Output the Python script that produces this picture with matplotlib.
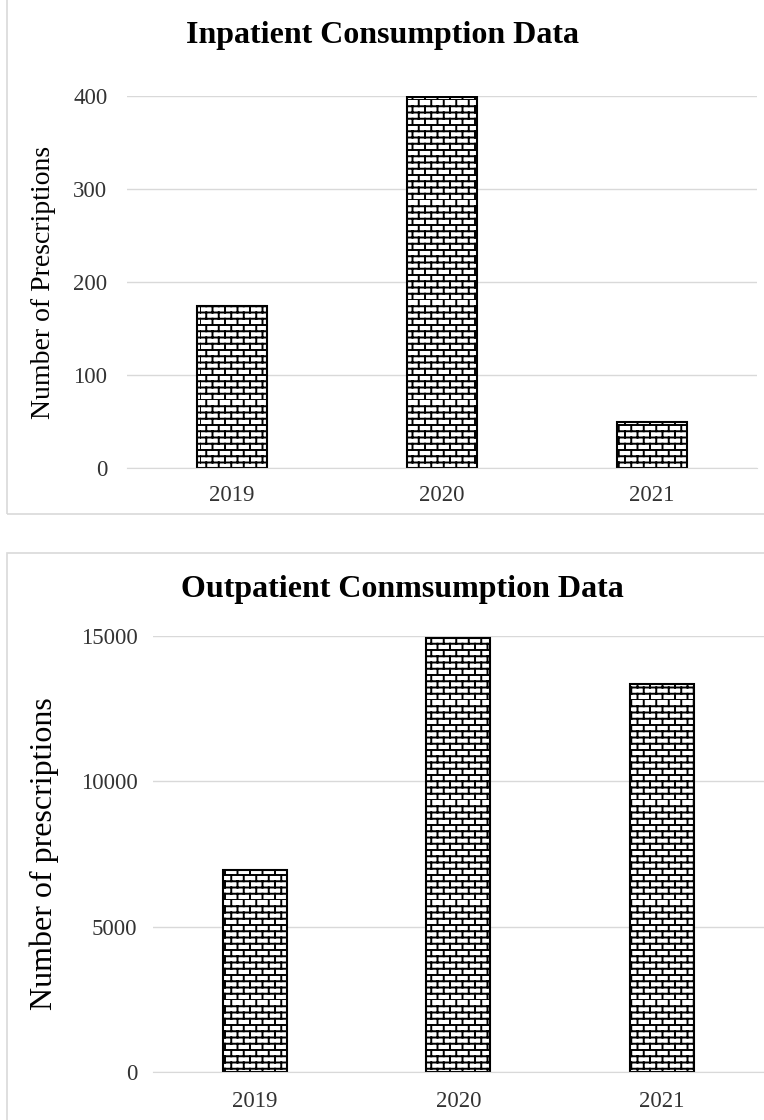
import warnings
import numpy as np
import matplotlib
matplotlib.use("Agg")
import matplotlib.pyplot as plt
import matplotlib.hatch as mhatch
from matplotlib.path import Path
from matplotlib.patches import Rectangle

warnings.filterwarnings("ignore")

years = ["2019", "2020", "2021"]
inpatient = [174, 399, 50]
outpatient = [6950, 14950, 13350]


# brick hatch, used with hatch="b"
class BrickHatch(mhatch.HatchPatternBase):
    def __init__(self, hatch, density):
        n = hatch.count("b")
        self.rows = 16 * n
        self.cols = 8 * n
        self.num_vertices = (self.rows + self.rows * self.cols) * 2

    def set_vertices_and_codes(self, vertices, codes):
        rows, cols = self.rows, self.cols
        i = 0
        for k in range(rows):
            y0 = k / rows
            y1 = (k + 1) / rows
            vertices[i] = (0.0, y0)
            vertices[i + 1] = (1.0, y0)
            i += 2
            off = 0.5 / cols if k % 2 else 0.0
            for j in range(cols):
                x = j / cols + off
                vertices[i] = (x, y0)
                vertices[i + 1] = (x, y1)
                i += 2
        codes[0::2] = Path.MOVETO
        codes[1::2] = Path.LINETO


mhatch._hatch_types.append(BrickHatch)

plt.rcParams["font.family"] = ["Liberation Serif", "DejaVu Serif"]
plt.rcParams["hatch.linewidth"] = 1.4
plt.rcParams["hatch.color"] = "black"

fig = plt.figure(figsize=(7.64, 11.2), dpi=100)

# panel frames
fig.add_artist(Rectangle((0.009, 0.541), 1.2, 0.6, transform=fig.transFigure,
                         fill=False, edgecolor="#d9d9d9", lw=1.2))
fig.add_artist(Rectangle((0.009, -0.1), 1.2, 0.606, transform=fig.transFigure,
                         fill=False, edgecolor="#d9d9d9", lw=1.2))


def style(ax, ylim, ticks, xpad, ypad):
    ax.set_ylim(0, ylim)
    ax.set_yticks(ticks)
    ax.grid(axis="y", color="#d9d9d9", lw=1)
    ax.set_axisbelow(True)
    for s in ["top", "right", "left"]:
        ax.spines[s].set_visible(False)
    ax.spines["bottom"].set_color("#d9d9d9")
    ax.tick_params(length=0, labelsize=16.5, colors="#333333")
    ax.tick_params(axis="x", pad=xpad)
    ax.tick_params(axis="y", pad=ypad)


ax1 = fig.add_axes([0.166, 0.582, 0.825, 0.332])
x = np.arange(len(years))
ax1.bar(x, inpatient, width=0.33, color="white", edgecolor="black",
        lw=1.5, hatch="b")
ax1.set_xticks(x, years)
ax1.set_xlim(-0.5, 2.5)
style(ax1, 400, [0, 100, 200, 300, 400], 12, 14)
ax1.set_ylabel("Number of Prescriptions", fontsize=20, labelpad=12)
fig.text(0.501, 0.968, "Inpatient Consumption Data", ha="center",
         va="center", fontsize=23, fontweight="bold")

ax2 = fig.add_axes([0.200, 0.043, 0.800, 0.389])
ax2.bar(x, outpatient, width=0.315, color="white", edgecolor="black",
        lw=1.5, hatch="b")
ax2.set_xticks(x, years)
ax2.set_xlim(-0.5, 2.5)
style(ax2, 15000, [0, 5000, 10000, 15000], 14, 11)
ax2.set_ylabel("Number of prescriptions", fontsize=23, labelpad=16)
fig.text(0.527, 0.474, "Outpatient Conmsumption Data", ha="center",
         va="center", fontsize=23, fontweight="bold")

fig.savefig("out.png", dpi=100)
